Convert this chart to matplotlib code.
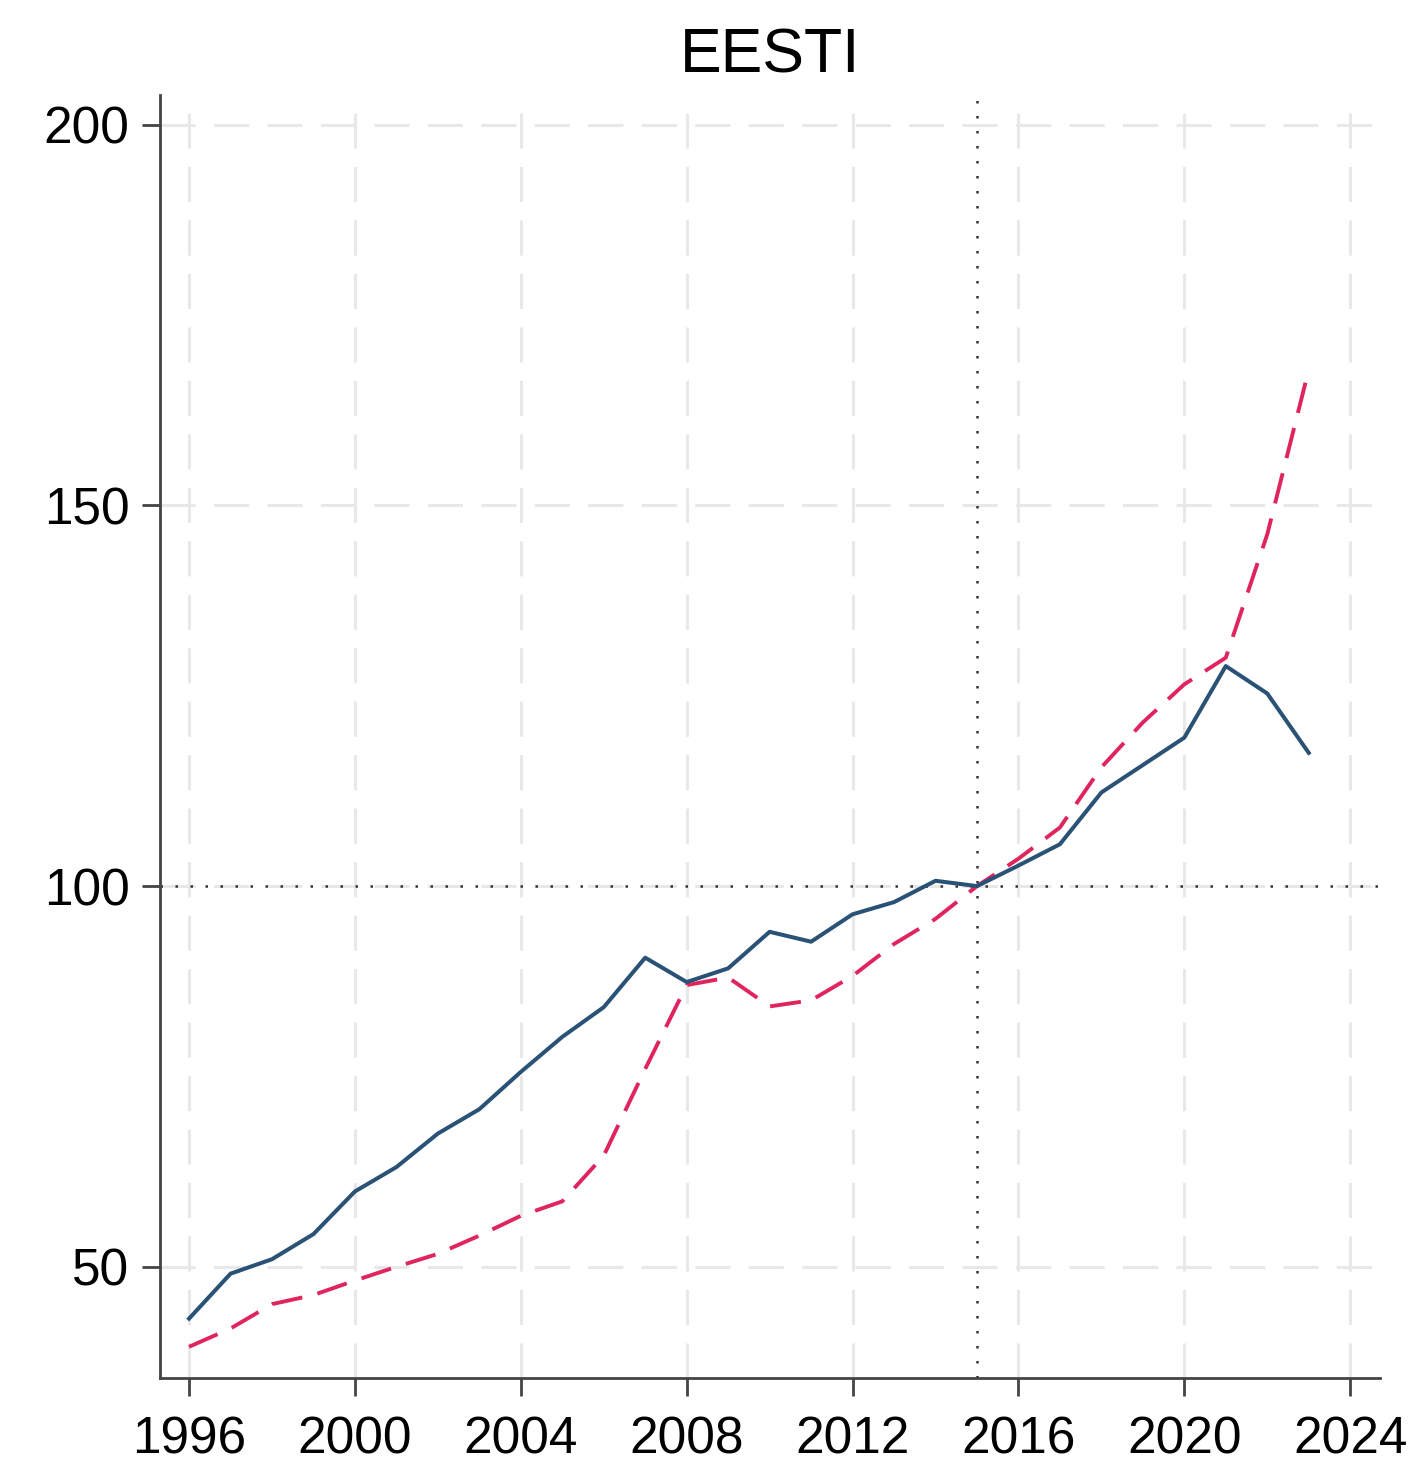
import matplotlib
matplotlib.use("Agg")
import matplotlib.pyplot as plt

plt.rcParams['font.family'] = ['Liberation Sans', 'DejaVu Sans']

years = list(range(1996, 2024))

# solid blue series
series_a = [43.2, 49.1, 51.0, 54.3, 59.9, 63.1, 67.5, 70.7, 75.6, 80.2,
            84.1, 90.6, 87.4, 89.2, 94.0, 92.7, 96.3, 97.9, 100.7, 100.0,
            102.7, 105.5, 112.3, 115.9, 119.5, 128.9, 125.3, 117.5]

# dashed red series
series_b = [39.5, 41.9, 45.1, 46.3, 48.2, 50.0, 51.7, 54.1, 56.7, 58.6,
            64.6, 76.0, 87.0, 88.0, 84.2, 85.0, 88.2, 92.4, 95.7, 100.0,
            103.6, 107.7, 115.6, 121.5, 126.5, 130.0, 146.2, 167.8]

x_ticks = [1996, 2000, 2004, 2008, 2012, 2016, 2020, 2024]
y_ticks = [50, 100, 150, 200]
base_year = 2015
base_value = 100

fig = plt.figure(figsize=(14.15, 14.73), dpi=100)
ax = fig.add_axes([0.1131, 0.0645, 0.8622, 0.8710])

# light dashed grid
for xt in x_ticks:
    ax.axvline(xt, color='#e8e8e8', lw=2.2, ls=(0, (11.5, 6)), zorder=0)
for yt in y_ticks:
    ax.axhline(yt, color='#e8e8e8', lw=2.2, ls=(0, (11.5, 6)), zorder=0)

# reference lines
ax.axhline(base_value, color='#333333', lw=1.8, ls=(0, (1, 5)), zorder=1)
ax.axvline(base_year, color='#333333', lw=1.8, ls=(0, (1, 5)), zorder=1)

ax.plot(years, series_a, color='#2a5276', lw=2.9, zorder=3)
ax.plot(years, series_b, color='#e0245e', lw=2.8, ls=(0, (8, 4)), zorder=2)

ax.set_xlim(1995.3, 2024.72)
ax.set_ylim(35.4, 203.9)
ax.set_xticks(x_ticks)
ax.set_yticks(y_ticks)

for s in ['top', 'right']:
    ax.spines[s].set_visible(False)
for s in ['left', 'bottom']:
    ax.spines[s].set_color('#444444')
    ax.spines[s].set_linewidth(2)

ax.tick_params(axis='both', direction='out', length=13, width=2,
               color='#444444', labelsize=37)
ax.tick_params(axis='x', pad=14)
ax.tick_params(axis='y', pad=9)

ax.set_title('EESTI', fontsize=45, pad=16)

fig.savefig('out.png', dpi=100)
